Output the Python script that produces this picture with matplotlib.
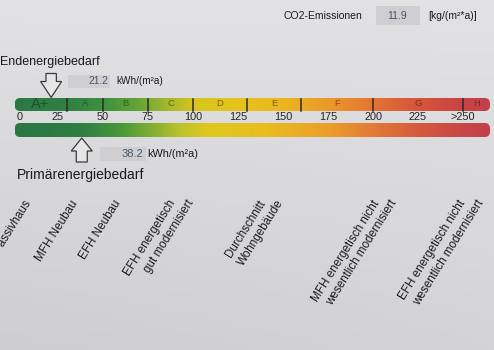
import numpy as np
import matplotlib
matplotlib.use("Agg")
import matplotlib.pyplot as plt
from matplotlib.colors import LinearSegmentedColormap
from matplotlib.patches import FancyBboxPatch, Rectangle, Polygon

plt.rcParams['font.family'] = ['Liberation Sans', 'DejaVu Sans']

# Scale data (kWh/(m²a))
class_names = ["A+", "A", "B", "C", "D", "E", "F", "G", "H"]
class_bounds = [0, 30, 50, 75, 100, 130, 160, 200, 250, 265]
class_text_col = ["#1d4b2b", "#1f5a2e", "#2a5e24", "#56641c", "#6c5a12",
                  "#785312", "#8a4a14", "#7e2a1e", "#7a2424"]
tick_values = [0, 25, 50, 75, 100, 125, 150, 175, 200, 225, 250]
tick_labels = ["0", "25", "50", "75", "100", "125", "150", "175", "200", "225", ">250"]

end_energy = 21.2       # Endenergiebedarf
primary_energy = 38.2   # Primärenergiebedarf
co2_emission = 11.9     # kg/(m²*a)

ref_labels = ["Passivhaus", "MFH Neubau", "EFH Neubau",
              "EFH energetisch\ngut modernisiert",
              "Durchschnitt\nWohngebäude",
              "MFH energetisch nicht\nwesentlich modernisiert",
              "EFH energetisch nicht\nwesentlich modernisiert"]
ref_values = [8.3, 34.4, 58.3, 88.9, 138.9, 202, 250]

# colour gradients along the scale (upper and lower bar)
top_pos = [0, 30, 50, 70, 85, 100, 125, 150, 175, 200, 225, 250, 265]
top_col = ["#2b7845", "#327f43", "#3f9040", "#68a636", "#a3b82e", "#d8c420",
           "#e6c41c", "#ebb520", "#ec9a2a", "#e37436", "#d4563c", "#c84444", "#c4404a"]
low_pos = [0, 38, 60, 78, 92, 108, 140, 175, 200, 225, 250, 265]
low_col = ["#2a7744", "#2f7e43", "#4a9a3a", "#86b132", "#bcc22a", "#e0c81e",
           "#e9bd1e", "#ec9e2a", "#e37a36", "#d55a3e", "#c94646", "#c4404a"]


def make_cmap(name, pos, col):
    return LinearSegmentedColormap.from_list(name, list(zip(np.array(pos) / pos[-1], col)))


top_cmap = make_cmap("top", top_pos, top_col)
low_cmap = make_cmap("low", low_pos, low_col)

PXV = 1.8   # pixels per kWh unit
X0 = 13.0   # pixel position of 0


def px(x):
    # pixel column -> scale value
    return (x - X0) / PXV


fig = plt.figure(figsize=(4.94, 3.5), dpi=100)
ax = fig.add_axes([0, 0, 1, 1])
xmin, xmax = px(0), px(494)
ax.set_xlim(xmin, xmax)
ax.set_ylim(350, 0)
ax.axis('off')

# paper background, a bit lighter at the top right
yy, xx = np.mgrid[0:1:60j, 0:1:80j]
bg = 226 - 14 * yy - 6 * (1 - xx) * yy
bg_rgb = np.dstack([bg, bg, bg + 2]) / 255.0
ax.imshow(np.clip(bg_rgb, 0, 1), extent=(xmin, xmax, 350, 0), aspect='auto', zorder=0)


def gradient_bar(y_top, height, v0, v1, cmap):
    patch = FancyBboxPatch((v0, y_top), v1 - v0, height,
                           boxstyle="round,pad=0,rounding_size=3",
                           mutation_aspect=PXV, facecolor='none', edgecolor='none')
    ax.add_patch(patch)
    vals = np.linspace(v0, v1, 600)[None, :]
    im = ax.imshow(vals, cmap=cmap, vmin=0, vmax=class_bounds[-1],
                   extent=(v0, v1, y_top + height, y_top), aspect='auto', zorder=2)
    im.set_clip_path(patch)


v_start, v_end = class_bounds[0] + 1, class_bounds[-1]
gradient_bar(98, 13, v_start, v_end, top_cmap)
gradient_bar(123, 14, v_start, v_end, low_cmap)

# class separators and letters
for b in class_bounds[1:-1]:
    ax.plot([b, b], [98.5, 110.5], color="#2a2a2a", lw=1.1, zorder=3)
for i, name in enumerate(class_names):
    mid = (class_bounds[i] + class_bounds[i + 1]) / 2
    big = name == "A+"
    ax.text(mid, 104.5 if big else 104, name, ha='center', va='center',
            fontsize=10.5 if big else 6.8, color=class_text_col[i],
            alpha=0.9, zorder=4)

# scale numbers
for v, lab in zip(tick_values, tick_labels):
    xv = v + 3.8 if v == 0 else v
    ax.text(xv, 117, lab, ha='center', va='center', fontsize=7.8, color="#222222", zorder=4)


def arrow(value, tip_y, direction, head_h, head_w, shaft_w, length):
    # hollow block arrow; direction +1 points down, -1 points up
    base = tip_y - direction * head_h
    end = tip_y - direction * length
    hw, sw = head_w / PXV, shaft_w / PXV
    pts = [(value, tip_y), (value - hw, base), (value - sw, base), (value - sw, end),
           (value + sw, end), (value + sw, base), (value + hw, base)]
    ax.add_patch(Polygon(pts, closed=True, facecolor="#e6e6e6", edgecolor="#3a3a3a",
                         lw=0.9, zorder=5))


arrow(end_energy, 97.5, 1, 16, 10.5, 5.2, 24)
arrow(primary_energy, 138, -1, 13, 10.5, 5.5, 24)

# headings
ax.text(px(0), 62, "Endenergiebedarf", ha='left', va='center', fontsize=9, color="#1a1a1a")
ax.text(px(17), 175, "Primärenergiebedarf", ha='left', va='center', fontsize=10, color="#1a1a1a")

# value boxes
box_col = "#cfcfd1"
num_col = "#47566b"
ax.add_patch(Rectangle((px(68), 75), 42 / PXV, 13, facecolor=box_col, edgecolor='none', zorder=1))
ax.text(px(108), 81.5, f"{end_energy:.1f}", ha='right', va='center', fontsize=7.4, color=num_col)
ax.text(px(116), 81.5, "kWh/(m²a)", ha='left', va='center', fontsize=7.2, color="#1a1a1a")

ax.add_patch(Rectangle((px(100), 147), 46 / PXV, 14, facecolor=box_col, edgecolor='none', zorder=1))
ax.text(px(143), 154, f"{primary_energy:.1f}", ha='right', va='center', fontsize=8, color=num_col)
ax.text(px(147), 154, "kWh/(m²a)", ha='left', va='center', fontsize=7.8, color="#1a1a1a")

ax.text(px(283), 16, "CO2-Emissionen", ha='left', va='center', fontsize=7.5, color="#1a1a1a")
ax.add_patch(Rectangle((px(376), 6), 44 / PXV, 19, facecolor=box_col, edgecolor='none', zorder=1))
ax.text(px(397), 16, f"{co2_emission:.1f}", ha='center', va='center', fontsize=7.5, color=num_col)
ax.text(px(428), 16, "[kg/(m²*a)]", ha='left', va='center', fontsize=7.5, color="#1a1a1a")

# rotated reference building labels, one text per line
for lab, v in zip(ref_labels, ref_values):
    for j, line in enumerate(lab.split("\n")):
        ax.text(v + j * 18 / PXV, 201, line, rotation=58, rotation_mode='anchor',
                ha='right', va='center', fontsize=8.4, color="#1a1a1a")

fig.savefig("out.png", dpi=100)
